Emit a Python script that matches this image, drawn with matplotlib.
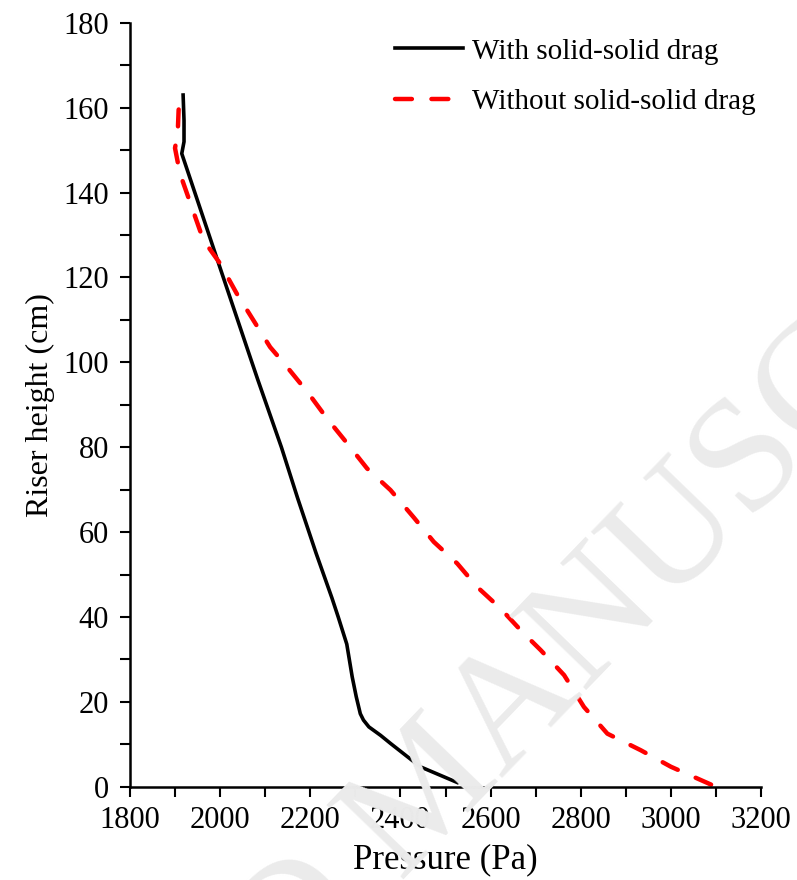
import numpy as np
import matplotlib.pyplot as plt
from matplotlib.ticker import MultipleLocator

plt.rcParams['font.family'] = ['Liberation Serif', 'DejaVu Serif']

# with solid-solid drag (black), read bottom to top
p_with = [2526, 2444, 2378, 2356, 2330, 2318, 2311, 2302, 2293, 2281, 2262,
          2248, 2213, 2172, 2136, 2084, 2069, 2004, 1915, 1920, 1920, 1918]
h_with = [1, 4.7, 10.2, 12.1, 14.1, 15.7, 17.2, 21.2, 25.9, 33.6, 40,
          44.5, 55, 68, 80, 95.8, 100.5, 121, 149.2, 152, 157, 163]

# without solid-solid drag (red dashed)
p_without = [3089, 3000, 2933, 2859, 2807, 2763, 2711, 2670, 2622, 2570, 2526,
             2474, 2430, 2378, 2326, 2282, 2237, 2196, 2144, 2111, 2037, 2000,
             1963, 1911, 1900, 1906, 1908, 1911]
h_without = [0.5, 4.7, 8.6, 12.5, 18.8, 26.3, 32.2, 36.5, 42, 47.1, 52.6,
             57.7, 63.4, 69.9, 75, 80.9, 86.8, 92.7, 99.5, 103.6, 116.2, 123.3,
             128.8, 144.5, 150.5, 154, 159.4, 162.6]

fig = plt.figure(figsize=(7.97, 8.8), dpi=100)
ax = fig.add_axes([0.163, 0.106, 0.792, 0.868])

# watermark
wm = dict(fontsize=118, color='#ebebeb', rotation=46, rotation_mode='anchor',
          va='baseline', zorder=0, transform=fig.transFigure)
fig.text(0.50, 0.0, 'MANUSCRIPT', ha='left', **wm)
fig.text(0.50, 0.0, 'ACCEPTED ', ha='right', **wm)
ax.patch.set_alpha(0)

ax.plot(p_with, h_with, color='black', lw=2.6, label='With solid-solid drag')
ax.plot(p_without, h_without, color='red', lw=3.2, dashes=(3.8, 4.4),
        dash_capstyle='round', label='Without solid-solid drag')

ax.set_xlim(1800, 3200)
ax.set_ylim(0, 180)
ax.xaxis.set_major_locator(MultipleLocator(200))
ax.xaxis.set_minor_locator(MultipleLocator(100))
ax.yaxis.set_major_locator(MultipleLocator(20))
ax.yaxis.set_minor_locator(MultipleLocator(10))
ax.tick_params(which='both', direction='out', length=7, width=1.5, labelsize=22)
ax.tick_params(axis='y', pad=8)
ax.tick_params(axis='x', pad=7)
for s in ['top', 'right']:
    ax.spines[s].set_visible(False)
for s in ['left', 'bottom']:
    ax.spines[s].set_linewidth(1.8)

ax.set_xlabel('Pressure (Pa)', fontsize=25, labelpad=6)
ax.set_ylabel('Riser height (cm)', fontsize=23, labelpad=6)

ax.legend(loc='upper left', bbox_to_anchor=(0.42, 0.98), frameon=False,
          fontsize=21, handlelength=2.33, handletextpad=0.31, borderpad=0,
          borderaxespad=0, labelspacing=0.84)

fig.savefig('out.png', dpi=100)
